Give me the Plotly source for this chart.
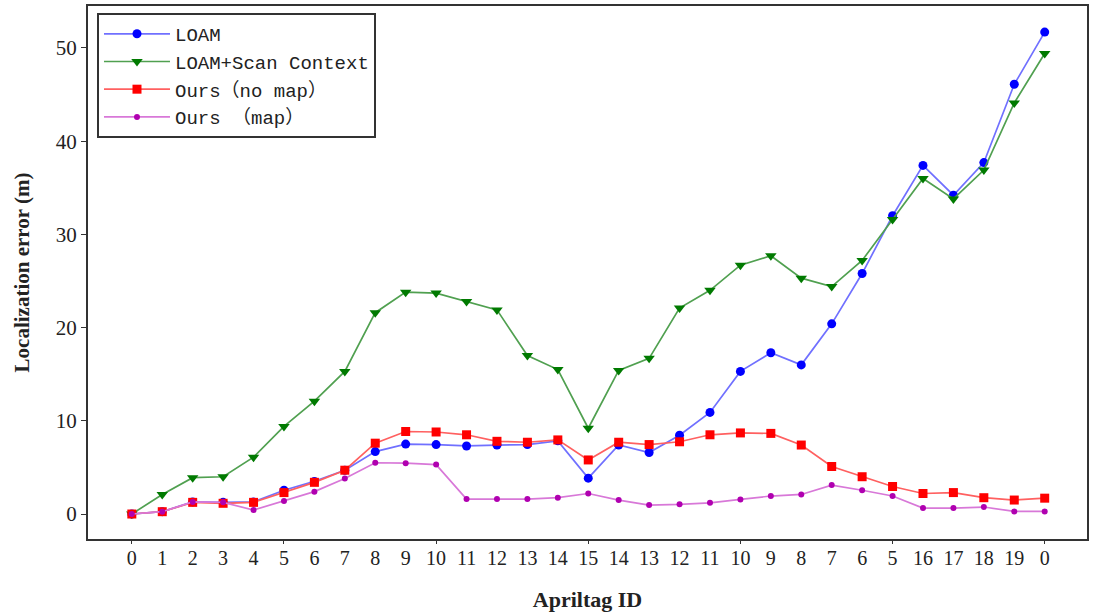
import plotly.graph_objects as go

# Apriltag IDs visited along the route (out and back)
tag_ids = ["0", "1", "2", "3", "4", "5", "6", "7", "8", "9", "10", "11", "12", "13", "14",
           "15", "14", "13", "12", "11", "10", "9", "8", "7", "6", "5", "16", "17", "18", "19", "0"]

loam = [0, 0.25, 1.3, 1.25, 1.3, 2.55, 3.5, 4.7, 6.7, 7.5, 7.45, 7.3, 7.4, 7.45, 7.85,
        3.85, 7.4, 6.6, 8.45, 10.9, 15.3, 17.3, 16.0, 20.4, 25.8, 32.0, 37.4, 34.2, 37.7, 46.1, 51.7]
loam_sc = [0, 2.1, 3.9, 4.0, 6.1, 9.4, 12.1, 15.3, 21.6, 23.8, 23.7, 22.8, 21.9, 17.0, 15.5,
           9.2, 15.4, 16.7, 22.1, 24.0, 26.7, 27.7, 25.3, 24.4, 27.2, 31.6, 36.0, 33.8, 36.9, 44.1, 49.4]
ours_nomap = [0, 0.25, 1.25, 1.15, 1.25, 2.3, 3.4, 4.7, 7.6, 8.85, 8.8, 8.5, 7.8, 7.7, 7.95,
              5.8, 7.7, 7.45, 7.75, 8.5, 8.7, 8.65, 7.4, 5.1, 4.0, 2.95, 2.2, 2.3, 1.75, 1.5, 1.7]
ours_map = [0, 0.25, 1.3, 1.25, 0.43, 1.4, 2.4, 3.8, 5.5, 5.45, 5.3, 1.6, 1.6, 1.6, 1.75,
            2.2, 1.5, 0.96, 1.04, 1.2, 1.57, 1.93, 2.1, 3.1, 2.55, 1.93, 0.64, 0.64, 0.75, 0.28, 0.28]

x = list(range(len(tag_ids)))

series = [
    ("LOAM", loam, "#7070ff", "#0000ff", "circle", 9),
    ("LOAM+Scan Context", loam_sc, "#50a050", "#007a00", "triangle-down", 10),
    ("Ours（no map）", ours_nomap, "#ff6060", "#ff0000", "square", 9),
    ("Ours （map）", ours_map, "#d878d8", "#b000b0", "circle", 6),
]

fig = go.Figure()
for name, vals, lc, mc, sym, sz in series:
    fig.add_trace(go.Scatter(
        x=x, y=vals, name=name, mode="lines+markers",
        line=dict(color=lc, width=1.7),
        marker=dict(color=mc, symbol=sym, size=sz, line=dict(width=0)),
    ))

# helper trace carrying the secondary x axis used for the tick marks every 5 tags
fig.add_trace(go.Scatter(x=[0], y=[0], xaxis="x2", mode="markers",
                         marker=dict(opacity=0), showlegend=False, hoverinfo="skip"))

xr = [-1.44, 31.39]
serif = "Liberation Serif, Times New Roman, serif"

fig.update_layout(
    width=1093, height=613,
    margin=dict(l=88, r=4, t=6, b=74),
    plot_bgcolor="white", paper_bgcolor="white",
    font=dict(family=serif, color="#222222"),
    xaxis=dict(
        range=xr, tickmode="array", tickvals=x, ticktext=tag_ids,
        ticks="", showgrid=False, zeroline=False,
        showline=True, mirror=True, linecolor="#333333", linewidth=2,
        tickfont=dict(family=serif, size=20, color="#222222"),
        title=dict(text="<b>Apriltag ID</b>", font=dict(family=serif, size=22, color="#222222"),
                   standoff=24),
    ),
    xaxis2=dict(
        range=xr, overlaying="x", side="bottom", tickmode="linear", tick0=0, dtick=5,
        ticks="outside", ticklen=4, tickcolor="#333333", showticklabels=False,
        showgrid=False, zeroline=False, showline=False,
    ),
    yaxis=dict(
        range=[-2.68, 54.5], tickmode="array", tickvals=[0, 10, 20, 30, 40, 50],
        ticks="outside", ticklen=5, tickcolor="#333333", showgrid=False, zeroline=False,
        showline=True, mirror=True, linecolor="#333333", linewidth=2,
        tickfont=dict(family=serif, size=21, color="#222222"),
        title=dict(text="<b>Localization error (m)</b>", font=dict(family=serif, size=21, color="#222222"),
                   standoff=20),
    ),
    legend=dict(
        x=0.009, y=0.987, xanchor="left", yanchor="top",
        bgcolor="white", bordercolor="#333333", borderwidth=2,
        font=dict(family="Liberation Mono, Noto Sans CJK SC, monospace", size=19, color="#222222"),
        itemwidth=66, tracegroupgap=0,
    ),
    showlegend=True,
)

fig.write_html("out.html")
